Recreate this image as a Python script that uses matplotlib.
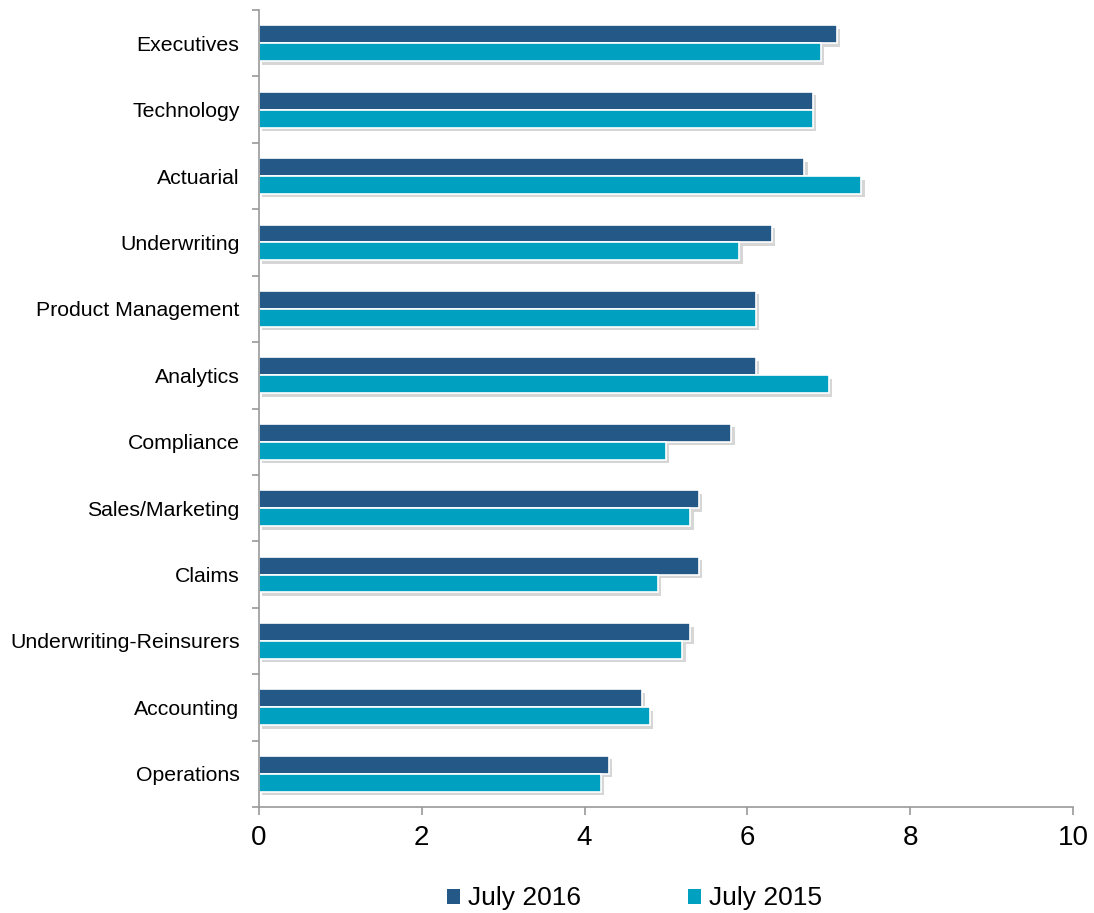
import matplotlib
matplotlib.use("Agg")
import matplotlib.pyplot as plt
import matplotlib.patheffects as pe
from matplotlib.patches import Patch
import numpy as np

plt.rcParams['font.family'] = ['Liberation Sans', 'DejaVu Sans']

categories = ["Executives", "Technology", "Actuarial", "Underwriting", "Product Management",
              "Analytics", "Compliance", "Sales/Marketing", "Claims",
              "Underwriting-Reinsurers", "Accounting", "Operations"]
july_2016 = [7.1, 6.8, 6.7, 6.3, 6.1, 6.1, 5.8, 5.4, 5.4, 5.3, 4.7, 4.3]
july_2015 = [6.9, 6.8, 7.4, 5.9, 6.1, 7.0, 5.0, 5.3, 4.9, 5.2, 4.8, 4.2]
series_names = ["July 2016", "July 2015"]
colors = ["#245987", "#00A0C1"]

fig = plt.figure(figsize=(10.94, 9.13), dpi=100)
ax = fig.add_axes([0.2367, 0.1161, 0.7441, 0.8729])

y = np.arange(len(categories))
h = 0.27
shadow = [pe.SimplePatchShadow(offset=(2.5, -2.5), shadow_rgbFace='#999999', alpha=0.4), pe.Normal()]
b1 = ax.barh(y - h / 2, july_2016, height=h, color=colors[0], edgecolor='white', linewidth=1.2)
b2 = ax.barh(y + h / 2, july_2015, height=h, color=colors[1], edgecolor='white', linewidth=1.2)
for bars in (b1, b2):
    for r in bars:
        r.set_path_effects(shadow)

ax.set_ylim(len(categories) - 0.5, -0.5)
ax.set_xlim(0, 10)
ax.set_yticks(y)
ax.set_yticklabels(categories, fontsize=15.3)
ax.tick_params(axis='y', length=0, pad=14)
ax.set_yticks(np.arange(-0.5, len(categories), 1), minor=True)
ax.tick_params(axis='y', which='minor', length=5, color='#999999', width=1.2)
ax.set_xticks([0, 2, 4, 6, 8, 10])
ax.tick_params(axis='x', length=6, color='#999999', width=1.2, labelsize=20, pad=7)

for s in ['top', 'right']:
    ax.spines[s].set_visible(False)
for s in ['left', 'bottom']:
    ax.spines[s].set_color('#999999')
    ax.spines[s].set_linewidth(1.2)

handles = [Patch(facecolor=colors[0]), Patch(facecolor=colors[1])]
fig.legend(handles, series_names, loc='center', bbox_to_anchor=(0.58, 0.016), ncol=2,
           frameon=False, fontsize=19, handlelength=0.5, handleheight=0.5,
           handletextpad=0.3, columnspacing=4.05)

fig.savefig("out.png", dpi=100)
